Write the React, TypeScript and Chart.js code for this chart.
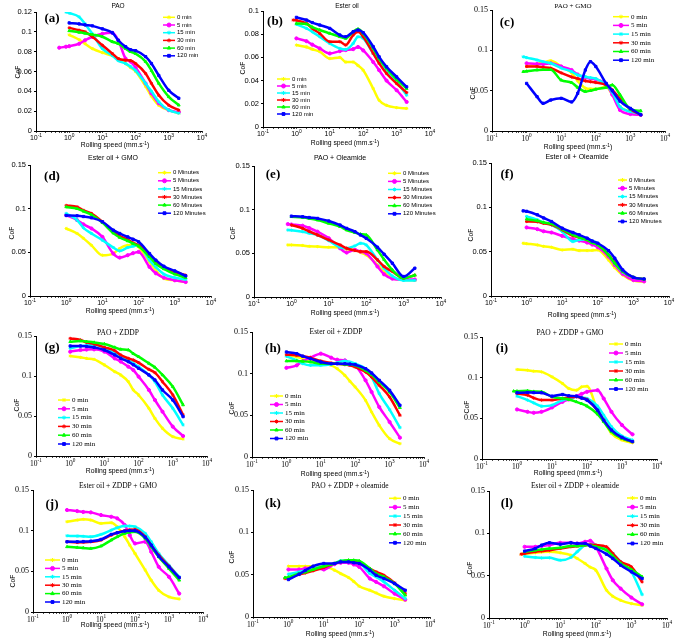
import React, { useEffect, useRef } from 'react';
import { Chart, registerables } from 'chart.js';
import { drawPoint } from 'chart.js/helpers';

Chart.register(...registerables);

const N = null;
// Rolling speed sample points (mm/s)
const SPEEDS = [0.5, 0.8, 1, 2, 3, 5, 10, 20, 30, 50, 70, 100, 200, 300, 500, 1000, 2000];
const MIN_LABELS = ['0 min', '5 min', '15 min', '30 min', '60 min', '120 min'];
const MINUTE_LABELS = ['0 Minutes', '5 Minutes', '15 Minutes', '30 Minutes', '60 Minutes', '120 Minutes'];
const X_EXPONENTS = [-1, 0, 1, 2, 3, 4];

const PAO = [
  [N, N, .097, .092, .088, .083, .079, .076, .073, .068, .064, .060, .045, .035, .026, .021, .018],
  [.084, .085, .0855, .088, .0915, .095, .098, .099, .0915, .073, .070, .064, .048, .038, .028, .021, .019],
  [N, .120, .119, .115, .108, .098, .083, .076, .071, .068, .065, .061, .048, .040, .0295, .021, .018],
  [N, N, .104, .1016, .100, .095, .0865, .078, .073, .0714, .071, .068, .058, .048, .036, .026, .021],
  [N, N, .101, .0995, .0985, .0972, .095, .090, .088, .083, .080, .078, .070, .061, .048, .0345, .026],
  [N, N, .109, .108, .107, .106, .103, .099, .0915, .085, .082, .081, .075, .068, .056, .041, .033],
];
const ESTER = [
  [N, N, .0706, .069, .067, .065, .059, .060, .056, .056, .053, .049, .033, .023, .0187, .0167, .016],
  [N, N, .0764, .074, .071, .0677, .0634, .0654, .0663, .0671, .069, .066, .056, .049, .040, .0317, .0216],
  [N, N, .0885, .085, .082, .0778, .072, .0677, .0668, .072, .0778, .0764, .0634, .056, .0475, .039, .0274],
  [N, .0922, .092, .0893, .085, .0807, .0735, .0735, .0706, .0793, .0821, .0778, .0634, .0548, .0461, .0375, .0297],
  [N, N, .0893, .0888, .086, .0836, .0807, .0778, .0764, .0821, .0844, .0807, .0677, .059, .0504, .041, .0331],
  [N, N, .0945, .0922, .090, .0879, .085, .0793, .0778, .0821, .0836, .0813, .0692, .0605, .0519, .0432, .0346],
];
const PAO_GMO = [
  [N, N, .080, .083, .085, .087, .080, .072, .062, .053, .052, .052, .055, .045, .030, .024, .021],
  [N, N, .084, .083, .083, .084, .080, .0756, .070, .066, .065, .064, .058, .045, .026, .021, .020],
  [N, .092, .091, .088, .086, .084, .078, .0736, .0694, .0673, .066, .065, .057, .048, .030, .024, .021],
  [N, N, .080, .080, .079, .078, .072, .067, .065, .062, .061, .060, .057, .051, .040, .027, .020],
  [N, .0736, .074, .0755, .076, .076, .063, .060, .054, .049, .050, .0517, .054, .057, .045, .027, .025],
  [N, N, .059, .0426, .0343, .0384, .0405, .036, .0467, .0756, .086, .080, .059, .050, .037, .028, .020],
];
const ESTER_GMO = [
  [N, N, .0773, .0716, .066, .058, .0467, .0486, .0543, .058, .058, .0562, .039, .0295, .020, .018, .016],
  [N, N, .0926, .0869, .082, .0773, .0677, .0486, .044, .0467, .049, .0505, .0333, .026, .021, .018, .016],
  [N, N, .0945, .0869, .078, .0716, .0639, .0555, .0516, .0555, .057, .058, .041, .033, .025, .021, .019],
  [N, N, .1037, .102, .098, .0945, .085, .0735, .0685, .0647, .061, .058, .0467, .039, .033, .0275, .0237],
  [N, N, .102, .100, .097, .093, .084, .072, .067, .063, .060, .057, .045, .037, .031, .025, .021],
  [N, N, .0922, .0918, .091, .0895, .085, .0754, .0716, .0677, .065, .062, .0486, .041, .034, .0287, .023],
];
const PAO_OLEAMIDE = [
  [N, .0596, .0596, .059, .058, .0577, .057, .0566, .0547, .054, .051, .048, .0368, .029, .0216, .0197, .019],
  [N, .0835, .083, .0816, .079, .0748, .0672, .0558, .0509, .054, .052, .0501, .0349, .026, .021, .020, .020],
  [N, .0767, .0765, .0748, .073, .071, .0645, .057, .0558, .0585, .0615, .0596, .0425, .033, .024, .019, .019],
  [N, N, .0824, .0786, .075, .071, .0653, .0596, .0558, .0532, .052, .052, .0425, .035, .0292, .0216, .025],
  [N, N, .0919, .0911, .090, .0881, .0843, .0805, .0767, .0737, .072, .071, .0539, .043, .031, .0216, .025],
  [N, N, .0926, .0919, .091, .090, .087, .0824, .0786, .0748, .071, .0672, .057, .049, .0387, .0235, .033],
];
const ESTER_OLEAMIDE = [
  [N, .0595, .059, .0576, .056, .055, .052, .0527, .0512, .0512, .0515, .052, .0407, .032, .0237, .0173, .016],
  [N, N, .0773, .0754, .073, .0716, .0678, .064, .0625, .0603, .058, .055, .0445, .035, .025, .018, .0165],
  [N, N, .0897, .0859, .083, .0803, .0727, .0614, .0633, .064, .062, .0595, .0463, .037, .027, .021, .019],
  [N, N, .084, .0836, .082, .0803, .0746, .0678, .0663, .0633, .061, .0588, .0463, .038, .028, .021, .019],
  [N, N, .0867, .0848, .083, .0814, .0754, .069, .0663, .0633, .060, .0576, .0463, .037, .028, .021, .019],
  [N, .096, .0955, .0916, .088, .084, .0765, .0716, .069, .0652, .062, .0595, .0512, .0426, .0294, .0211, .0192],
];
const PAO_ZDDP = [
  [N, N, .125, .1233, .122, .1208, .1138, .1054, .1013, .0929, .0825, .0763, .0596, .047, .0346, .0242, .0213],
  [N, N, .1304, .1325, .133, .1333, .1304, .122, .118, .1117, .1075, .0992, .0825, .070, .0554, .0367, .025],
  [N, N, .1346, .1375, .138, .1388, .1358, .1283, .1242, .120, .116, .1117, .1013, .0929, .0763, .0596, .0388],
  [N, N, .147, .145, .142, .140, .1358, .1317, .1263, .1221, .120, .1167, .1083, .1042, .0929, .0763, .0513],
  [N, N, .1429, .1438, .143, .142, .140, .1358, .1333, .1325, .128, .1242, .1158, .1108, .1013, .0867, .0638],
  [N, N, .1375, .1375, .137, .1358, .1325, .1263, .1221, .1179, .114, .1096, .1013, .095, .0825, .070, .0492],
];
const ESTER_ZDDP = [
  [N, N, .122, .120, .118, .116, .1128, .110, .106, .098, .091, .084, .068, .054, .038, .022, .016],
  [N, N, .107, .110, .115, .1192, .124, .1192, .1168, .116, .113, .110, .092, .078, .060, .042, .0232],
  [N, N, .1208, .116, .112, .110, .110, .1112, .1132, .1152, .114, .112, .106, .096, .076, .0568, .0352],
  [N, N, .1228, .122, .121, .1192, .1152, .1128, .112, .1108, .110, .108, .102, .096, .086, .072, .050],
  [N, N, .1152, .1152, .1148, .114, .112, .112, .112, .1112, .111, .110, .104, .0988, .090, .078, .0592],
  [N, N, .126, .124, .121, .118, .114, .112, .112, .112, .1115, .1108, .106, .1008, .092, .080, .062],
];
const PAO_ZDDP_GMO = [
  [N, N, .110, .1092, .108, .1071, .101, .0928, .0867, .0846, .0887, .0895, .0601, .0478, .0315, .0233, .020],
  [N, N, .0609, .058, .0568, .058, .0634, .0703, .0732, .0773, .080, .0826, .0846, .0744, .058, .0417, .0303],
  [N, N, .0773, .0724, .069, .065, .0662, .0724, .0744, .0765, .0755, .0744, .065, .054, .0397, .0282, .0233],
  [N, N, .0805, .0785, .075, .0724, .0724, .0744, .0756, .0765, .075, .0732, .0593, .0478, .0348, .0253, .0213],
  [N, .0834, .0834, .0838, .083, .0826, .0765, .0744, .0732, .0703, .068, .065, .0552, .0458, .0335, .0253, .0213],
  [N, N, .0814, .0818, .0816, .0814, .0773, .0793, .0777, .0773, .075, .0724, .0601, .0478, .0356, .0266, .0213],
];
const ESTER_ZDDP_GMO = [
  [N, N, .111, .113, .1139, .113, .1089, .1097, .1048, .0925, .0822, .0719, .0514, .039, .0267, .0185, .016],
  [N, N, .1254, .1241, .123, .1225, .1192, .1171, .1151, .1069, .0945, .0843, .0863, .074, .0555, .0432, .0226],
  [N, N, .0937, .0933, .093, .0925, .0954, .1007, .1036, .1056, .1056, .1048, .0966, .0863, .0719, .0575, .0432],
  [N, N, .0863, .0855, .0858, .0863, .0884, .0945, .0974, .0999, .101, .1015, .0925, .0822, .0699, .0563, .0419],
  [N, N, .0801, .0793, .0788, .0781, .081, .0884, .0925, .0966, .098, .0986, .0904, .0801, .0678, .0534, .039],
  [N, N, .0863, .0863, .0866, .0871, .0892, .0954, .0974, .0995, .100, .0999, .0917, .0822, .0686, .0555, .0423],
];
const PAO_ZDDP_OLEAMIDE = [
  [N, N, .060, .060, .060, .060, .060, .0553, .0513, .0466, .042, .0363, .0316, .0284, .0245, .0217, .0197],
  [N, N, .0561, .0561, .0575, .0584, .0561, .0624, .064, .064, .062, .0592, .0454, .0415, .0363, .0276, .0205],
  [N, N, .0505, .0533, .055, .0572, .060, .0632, .0663, .0663, .065, .064, .0513, .0474, .0415, .0316, .0217],
  [N, .0454, .046, .0501, .052, .0545, .0584, .0632, .0651, .0663, .066, .0651, .0572, .0533, .0493, .0403, .0276],
  [N, .0466, .047, .0513, .053, .0561, .060, .0632, .0659, .0671, .067, .0663, .0572, .0513, .0474, .0395, .0257],
  [N, N, .0442, .0505, .055, .060, .0632, .0632, .0651, .0651, .064, .0632, .0553, .0493, .0454, .0395, .0316],
];
const ESTER_ZDDP_OLEAMIDE = [
  [N, .0754, .0758, .077, .078, .0782, .077, .0742, .0703, .0644, .060, .0565, .0328, .0257, .0209, .017, .015],
  [N, N, .0841, .0841, .085, .0861, .0888, .0888, .088, .090, .0912, .0841, .0584, .0446, .0347, .0241, .0162],
  [N, N, .073, .0715, .071, .0711, .0683, .0715, .0782, .0861, .087, .0861, .0821, .0762, .0663, .0545, .0276],
  [N, .0754, .0762, .0782, .079, .0801, .0821, .0841, .0849, .0861, .0865, .0861, .0841, .0762, .0663, .0604, .0426],
  [N, N, .0782, .0801, .081, .0821, .0829, .0849, .0849, .0861, .0855, .0841, .0801, .073, .0644, .0572, .0486],
  [N, N, .079, .0821, .086, .0888, .0872, .0888, .088, .088, .085, .0821, .0754, .0703, .0624, .0545, .0466],
];

const COLORS = ['#ffff00', '#ff00ff', '#00ffff', '#ff0000', '#00ff00', '#0000ff'];
const POINT_STYLES = ['star', 'circle', 'star', 'star', 'triangle', 'rect'];

const SANS = '"Liberation Sans", Arial, sans-serif';
const SERIF = '"Liberation Serif", "Times New Roman", serif';
const YW = 30, XH = 14, PAD_TOP = 7, PAD_RIGHT = 10;

// layout: box = [left, right, top, bottom] of the plot area (page px)
const PANELS = [
  { data: PAO, title: 'PAO', tag: '(a)', labels: MIN_LABELS, ymax: 0.12, step: 0.02, serif: false,
    box: [36, 202, 12, 131], titlePos: [118, 6], titleSerif: false, titleSize: 6.5, tagPos: [52, 17], xlab: [115, 145], ylab: [18, 72],
    legend: [163, 17.3, 7.7, 12, 6], legendSerif: false },
  { data: ESTER, title: 'Ester oil', tag: '(b)', labels: MIN_LABELS, ymax: 0.1, step: 0.02, serif: false,
    box: [263, 430, 11, 127], titlePos: [347, 6], titleSerif: false, titleSize: 6.5, tagPos: [275, 20], xlab: [345, 143], ylab: [243, 68],
    legend: [277, 79, 7, 13, 6], legendSerif: false },
  { data: PAO_GMO, title: 'PAO + GMO', tag: '(c)', labels: MIN_LABELS, ymax: 0.15, step: 0.05, serif: true,
    box: [492, 665, 10, 131], titlePos: [573, 6], titleSerif: true, titleSize: 7, tagPos: [507, 21], xlab: [578, 147], ylab: [473, 93],
    legend: [613, 16.7, 8.7, 16, 7], legendSerif: true },
  { data: ESTER_GMO, title: 'Ester oil + GMO', tag: '(d)', labels: MINUTE_LABELS, ymax: 0.15, step: 0.05, serif: false,
    box: [30, 211, 165, 296], titlePos: [113, 157], titleSerif: false, titleSize: 7, tagPos: [52, 175], xlab: [120, 311], ylab: [12, 233],
    legend: [158, 172.7, 8.1, 13, 6], legendSerif: false },
  { data: PAO_OLEAMIDE, title: 'PAO + Oleamide', tag: '(e)', labels: MINUTE_LABELS, ymax: 0.15, step: 0.05, serif: false,
    box: [254, 441, 166, 297], titlePos: [340, 157], titleSerif: false, titleSize: 7, tagPos: [273, 173], xlab: [345, 313], ylab: [233, 233],
    legend: [388, 173.3, 8.1, 13, 6], legendSerif: false },
  { data: ESTER_OLEAMIDE, title: 'Ester oil + Oleamide', tag: '(f)', labels: MINUTE_LABELS, ymax: 0.15, step: 0.05, serif: false,
    box: [491, 669, 163, 296], titlePos: [577, 156], titleSerif: false, titleSize: 7, tagPos: [507, 173], xlab: [582, 315], ylab: [471, 235],
    legend: [618, 180, 8.3, 9, 6], legendSerif: false },
  { data: PAO_ZDDP, title: 'PAO + ZDDP', tag: '(g)', labels: MIN_LABELS, ymax: 0.15, step: 0.05, serif: true,
    box: [36, 207, 336, 456], titlePos: [118, 333], titleSerif: true, titleSize: 7.5, tagPos: [52, 346], xlab: [120, 471], ylab: [17, 405],
    legend: [58, 400, 8.8, 12, 7], legendSerif: true },
  { data: ESTER_ZDDP, title: 'Ester oil + ZDDP', tag: '(h)', labels: MIN_LABELS, ymax: 0.15, step: 0.05, serif: true,
    box: [252, 424, 332, 457], titlePos: [336, 332], titleSerif: true, titleSize: 7.5, tagPos: [273, 347], xlab: [335, 474], ylab: [232, 408],
    legend: [270, 396, 8.5, 13, 7], legendSerif: true },
  { data: PAO_ZDDP_GMO, title: 'PAO + ZDDP + GMO', tag: '(i)', labels: MIN_LABELS, ymax: 0.15, step: 0.05, serif: true,
    box: [482, 657, 337, 459], titlePos: [570, 333], titleSerif: true, titleSize: 7.5, tagPos: [502, 347], xlab: [568, 473], ylab: [467, 407],
    legend: [609, 344, 9, 14, 7], legendSerif: true },
  { data: ESTER_ZDDP_GMO, title: 'Ester oil + ZDDP + GMO', tag: '(j)', labels: MIN_LABELS, ymax: 0.15, step: 0.05, serif: true,
    box: [33, 203, 490, 612], titlePos: [118, 486], titleSerif: true, titleSize: 7.5, tagPos: [52, 503], xlab: [115, 625], ylab: [13, 581],
    legend: [45, 560, 8.4, 15, 7], legendSerif: true },
  { data: PAO_ZDDP_OLEAMIDE, title: 'PAO + ZDDP + oleamide', tag: '(k)', labels: MIN_LABELS, ymax: 0.15, step: 0.05, serif: true,
    box: [253, 430, 490, 617], titlePos: [350, 486], titleSerif: true, titleSize: 7.5, tagPos: [273, 502], xlab: [340, 634], ylab: [232, 557],
    legend: [389, 498.3, 8.9, 12, 7], legendSerif: true },
  { data: ESTER_ZDDP_OLEAMIDE, title: 'Ester oil + ZDDP + oleamide', tag: '(l)', labels: MIN_LABELS, ymax: 0.15, step: 0.05, serif: true,
    box: [489, 667, 491, 618], titlePos: [575, 486], titleSerif: true, titleSize: 7.5, tagPos: [507, 502], xlab: [577, 634], ylab: [470, 568],
    legend: [627, 498, 9.1, 11, 7], legendSerif: true },
];

function fmtY(v: number) {
  const n = Math.round(v * 1000) / 1000;
  return n === 0 ? '0' : String(n);
}

const X_TICKS: number[] = [];
for (let k = -1; k < 4; k++) for (let m = 1; m < 10; m++) X_TICKS.push(m * Math.pow(10, k));
X_TICKS.push(10000);

function makeConfig(p: any) {
  const family = p.serif ? SERIF : SANS;
  const cLeft = p.box[0] - YW;
  const cTop = p.box[2] - PAD_TOP;
  const overlay = {
    id: 'overlay',
    afterDraw(chart: any) {
      const ctx = chart.ctx;
      const xs = chart.scales.x;
      const bottom = chart.chartArea.bottom;
      ctx.save();
      ctx.fillStyle = '#000';
      ctx.textBaseline = 'top';
      ctx.textAlign = 'left';
      const big = p.serif ? 7.5 : 7;
      const small = big * 0.7;
      X_EXPONENTS.forEach((e) => {
        const x = xs.getPixelForValue(Math.pow(10, e));
        const sup = e < 0 ? '-' + Math.abs(e) : String(e);
        ctx.font = `${big}px ${family}`;
        const w1 = ctx.measureText('10').width;
        ctx.font = `${small}px ${family}`;
        const w2 = ctx.measureText(sup).width;
        const start = x - (w1 + w2) / 2;
        ctx.font = `${big}px ${family}`;
        ctx.fillText('10', start, bottom + 4);
        ctx.font = `${small}px ${family}`;
        ctx.fillText(sup, start + w1, bottom + 2);
      });
      const [lx, ly, dy, len, fs] = p.legend;
      const lfam = p.legendSerif ? SERIF : SANS;
      ctx.textBaseline = 'middle';
      chart.data.datasets.forEach((ds: any, i: number) => {
        const x0 = lx - cLeft;
        const y = ly - cTop + i * dy;
        ctx.strokeStyle = ds.borderColor;
        ctx.fillStyle = ds.borderColor;
        ctx.lineWidth = 1.5;
        ctx.beginPath();
        ctx.moveTo(x0, y);
        ctx.lineTo(x0 + len, y);
        ctx.stroke();
        ctx.lineWidth = 1;
        drawPoint(ctx, { pointStyle: ds.pointStyle, radius: 2, borderWidth: 1, rotation: 0 }, x0 + len / 2, y);
        ctx.fillStyle = '#000';
        ctx.font = `${fs}px ${lfam}`;
        ctx.fillText(ds.label, x0 + len + 2, y);
      });
      ctx.restore();
    },
  };
  return {
    type: 'line',
    data: {
      datasets: p.data.map((vals: (number | null)[], i: number) => ({
        label: p.labels[i],
        data: SPEEDS.map((x, j) => ({ x, y: vals[j] })).filter((pt) => pt.y !== null),
        borderColor: COLORS[i],
        backgroundColor: COLORS[i],
        borderWidth: 2.5,
        pointRadius: 1.6,
        pointBorderWidth: 1,
        pointStyle: POINT_STYLES[i],
        cubicInterpolationMode: 'monotone',
        order: 5 - i,
      })),
    },
    options: {
      animation: false,
      responsive: false,
      maintainAspectRatio: false,
      events: [],
      layout: { padding: { top: PAD_TOP, right: PAD_RIGHT, left: 0, bottom: 0 } },
      plugins: { legend: { display: false }, tooltip: { enabled: false }, title: { display: false } },
      scales: {
        x: {
          type: 'logarithmic',
          min: 0.1,
          max: 10000,
          afterBuildTicks: (s: any) => { s.ticks = X_TICKS.map((value) => ({ value })); },
          afterFit: (s: any) => { s.height = XH; },
          ticks: { display: false },
          grid: { drawOnChartArea: false, drawTicks: true, tickLength: 2, color: '#000', lineWidth: 0.7 },
          border: { display: true, color: '#000', width: 1 },
        },
        y: {
          type: 'linear',
          min: 0,
          max: p.ymax,
          afterFit: (s: any) => { s.width = YW; },
          ticks: { stepSize: p.step, callback: fmtY, color: '#000', padding: 2, font: { family, size: p.serif ? 8 : 7.5 } },
          grid: { drawOnChartArea: false, drawTicks: true, tickLength: 2, color: '#000' },
          border: { display: true, color: '#000', width: 1 },
        },
      },
    },
    plugins: [overlay],
  };
}

function Panel({ p }: { p: any }) {
  const ref = useRef<HTMLCanvasElement>(null);
  useEffect(() => {
    const chart = new Chart(ref.current as HTMLCanvasElement, makeConfig(p) as any);
    return () => chart.destroy();
  }, []);
  const [L, R, T, B] = p.box;
  const left = L - YW;
  const top = T - PAD_TOP;
  const w = R - L + YW + PAD_RIGHT;
  const h = B - T + PAD_TOP + XH;
  return <canvas ref={ref} width={w} height={h} style={{ position: 'absolute', left, top, width: w, height: h }} />;
}

function Txt({ x, y, children, style, rotate }: any) {
  return (
    <div
      style={{
        position: 'absolute', left: x, top: y, whiteSpace: 'nowrap', lineHeight: 1, color: '#000',
        transform: `translate(-50%, -50%)${rotate ? ' rotate(-90deg)' : ''}`, ...style,
      }}
    >
      {children}
    </div>
  );
}

export default function App() {
  return (
    <div style={{ position: 'absolute', left: 0, top: 0, width: 685, height: 640, background: '#fff', overflow: 'hidden' }}>
      {PANELS.map((p, i) => <Panel key={i} p={p} />)}
      {PANELS.map((p, i) => (
        <React.Fragment key={'t' + i}>
          <Txt x={p.titlePos[0]} y={p.titlePos[1]} style={{ fontFamily: p.titleSerif ? SERIF : SANS, fontSize: p.titleSize }}>{p.title}</Txt>
          <Txt x={p.tagPos[0]} y={p.tagPos[1]} style={{ fontFamily: SERIF, fontSize: 13, fontWeight: 'bold' }}>{p.tag}</Txt>
          <Txt x={p.xlab[0]} y={p.xlab[1]} style={{ fontFamily: SANS, fontSize: 6.8 }}>
            Rolling speed (mm.s<span style={{ fontSize: 4.8, position: 'relative', top: -2.5 }}>-1</span>)
          </Txt>
          <Txt x={p.ylab[0]} y={p.ylab[1]} rotate style={{ fontFamily: SANS, fontSize: 6.8 }}>CoF</Txt>
        </React.Fragment>
      ))}
    </div>
  );
}
